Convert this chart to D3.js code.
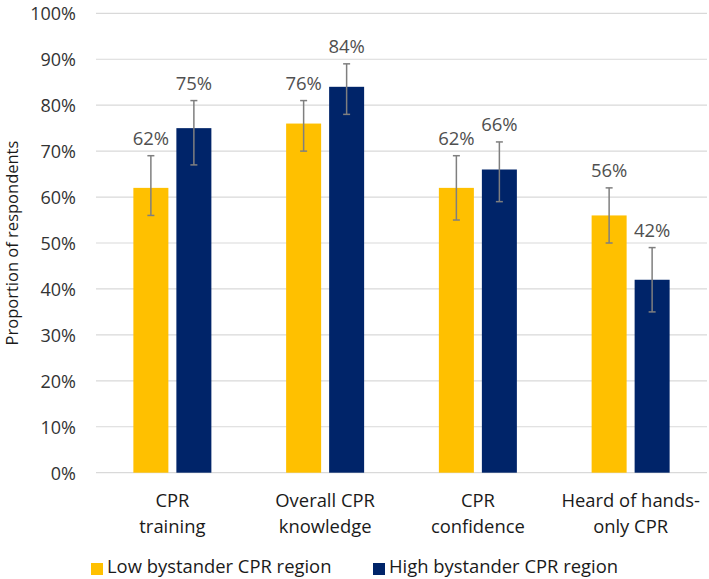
<!DOCTYPE html>
<html>
<head>
<meta charset="utf-8">
<script src="https://cdn.jsdelivr.net/npm/d3@7"></script>
<style>
  html, body { margin: 0; padding: 0; background: #fff; }
  svg { display: block; font-family: "Open Sans", sans-serif; }
</style>
</head>
<body>
<svg id="chart" width="709" height="579"></svg>
<script>
const categories = [["CPR", "training"], ["Overall CPR", "knowledge"], ["CPR", "confidence"], ["Heard of hands-", "only CPR"]];
const seriesNames = ["Low bystander CPR region", "High bystander CPR region"];
const lowValues = [62, 76, 62, 56];
const highValues = [75, 84, 66, 42];
const lowErrLower = [56, 70, 55, 50];
const lowErrUpper = [69, 81, 69, 62];
const highErrLower = [67, 78, 59, 35];
const highErrUpper = [81, 89, 72, 49];
const yTicks = [0, 10, 20, 30, 40, 50, 60, 70, 80, 90, 100];
const colors = ["#FFC000", "#002469"];

const svg = d3.select("#chart");
const plotLeft = 96, plotRight = 707, plotTop = 13.3, plotBottom = 472.7;

const x0 = d3.scaleBand().domain(d3.range(categories.length)).range([plotLeft, plotRight]).paddingInner(0).paddingOuter(0);
const x1 = d3.scaleBand().domain([0, 1]).range([0, 78]).paddingInner(0.186);
const y = d3.scaleLinear().domain([0, 100]).range([plotBottom, plotTop]);

// gridlines
svg.append("g").selectAll("line").data(yTicks).join("line")
  .attr("x1", plotLeft).attr("x2", plotRight)
  .attr("y1", d => y(d)).attr("y2", d => y(d))
  .attr("stroke", "#d9d9d9").attr("stroke-width", 1.2);

// y axis labels
const yAxis = d3.axisLeft(y).tickValues(yTicks).tickFormat(d => d + "%").tickSize(0).tickPadding(0);
const ga = svg.append("g").attr("transform", `translate(${plotLeft - 20},0)`).call(yAxis);
ga.select(".domain").remove();
ga.selectAll("text").attr("font-size", 18).attr("fill", "#333333").attr("font-family", "Open Sans, sans-serif").attr("dy", "0.36em");

// y title
svg.append("text").attr("transform", `translate(18,${(plotTop + plotBottom) / 2}) rotate(-90)`)
  .attr("text-anchor", "middle").attr("font-size", 16.5).attr("fill", "#1a1a1a")
  .text("Proportion of respondents");

const series = [
  { vals: lowValues, lo: lowErrLower, hi: lowErrUpper },
  { vals: highValues, lo: highErrLower, hi: highErrUpper }
];

const groupWidth = 78;
series.forEach((s, si) => {
  const g = svg.append("g");
  const xPos = i => x0(i) + (x0.bandwidth() - groupWidth) / 2 + x1(si);
  g.selectAll("rect").data(s.vals).join("rect")
    .attr("x", (d, i) => xPos(i)).attr("width", x1.bandwidth())
    .attr("y", d => y(d)).attr("height", d => y(0) - y(d))
    .attr("fill", colors[si]);
  const cx = i => xPos(i) + x1.bandwidth() / 2;
  // error bars
  s.vals.forEach((v, i) => {
    const eg = g.append("g").attr("stroke", "#7f7f7f").attr("stroke-width", 1.5);
    eg.append("line").attr("x1", cx(i)).attr("x2", cx(i)).attr("y1", y(s.lo[i])).attr("y2", y(s.hi[i]));
    eg.append("line").attr("x1", cx(i) - 3.5).attr("x2", cx(i) + 3.5).attr("y1", y(s.lo[i])).attr("y2", y(s.lo[i]));
    eg.append("line").attr("x1", cx(i) - 3.5).attr("x2", cx(i) + 3.5).attr("y1", y(s.hi[i])).attr("y2", y(s.hi[i]));
  });
  // data labels
  g.selectAll("text.lbl").data(s.vals).join("text").attr("class", "lbl")
    .attr("x", (d, i) => cx(i)).attr("y", (d, i) => y(s.hi[i]) - 10.5)
    .attr("text-anchor", "middle").attr("font-size", 18.5).attr("fill", "#505050")
    .text(d => d + "%");
});

// category labels
const cg = svg.append("g");
categories.forEach((lines, i) => {
  const t = cg.append("text").attr("text-anchor", "middle").attr("font-size", 18.4).attr("fill", "#1a1a1a");
  lines.forEach((ln, j) => {
    t.append("tspan").attr("x", x0(i) + x0.bandwidth() / 2).attr("y", 507 + j * 26).text(ln);
  });
});

// legend
const legendX = [91, 373];
seriesNames.forEach((n, i) => {
  svg.append("rect").attr("x", legendX[i]).attr("y", 563).attr("width", 12).attr("height", 12).attr("fill", colors[i]);
  svg.append("text").attr("x", legendX[i] + 16).attr("y", 573).attr("font-size", 18.4).attr("fill", "#1a1a1a").text(n);
});
</script>
</body>
</html>
